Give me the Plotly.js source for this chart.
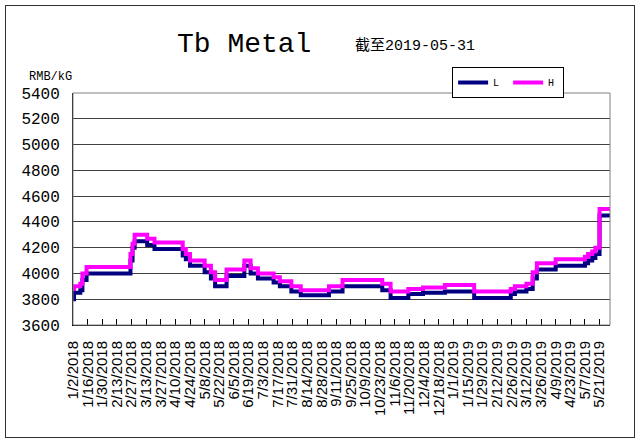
<!DOCTYPE html>
<html>
<head>
<meta charset="utf-8">
<script src="https://cdn.plot.ly/plotly-3.0.1.min.js"></script>
<style>
  html, body { margin: 0; padding: 0; background: #fff; }
  #wrap { position: relative; width: 641px; height: 445px; }
  #chart { position: absolute; left: 0; top: 0; width: 641px; height: 445px; }
  #frame { position: absolute; left: 5px; top: 5px; width: 628px; height: 431px;
           border: 1.5px solid #303030; pointer-events: none; }
</style>
</head>
<body>
<div id="wrap">
  <div id="chart"></div>
  <div id="frame"></div>
</div>
<script>
// Step change dates (price holds until the next date)
const dates = [
  '2018-01-02','2018-01-03','2018-01-09','2018-01-11','2018-01-15',
  '2018-02-26','2018-02-28','2018-03-02','2018-03-14','2018-03-21',
  '2018-04-17','2018-04-20','2018-04-24','2018-05-08','2018-05-14',
  '2018-05-18','2018-05-29','2018-06-15','2018-06-21','2018-06-28',
  '2018-07-13','2018-07-19','2018-07-30','2018-08-08','2018-09-04',
  '2018-09-17','2018-10-25','2018-11-02','2018-11-19','2018-12-03',
  '2018-12-24','2019-01-21','2019-02-25','2019-03-01','2019-03-12',
  '2019-03-18','2019-03-22','2019-04-09','2019-05-07','2019-05-10',
  '2019-05-14','2019-05-17','2019-05-21','2019-05-31'
];
const lowPrice = [
  3800,3850,3870,3950,4000,
  4100,4200,4250,4220,4190,
  4140,4110,4060,4010,3960,
  3900,3980,4060,4000,3960,
  3930,3900,3860,3830,3860,
  3900,3870,3810,3840,3850,
  3860,3810,3840,3860,3880,
  3960,4030,4060,4080,4100,
  4120,4150,4450,4450
];
const highPrice = [
  3880,3900,3920,4000,4050,
  4150,4230,4300,4270,4240,
  4190,4150,4100,4060,4010,
  3950,4030,4100,4040,4000,
  3970,3940,3900,3870,3900,
  3950,3920,3860,3880,3890,
  3910,3860,3880,3900,3920,
  4010,4080,4110,4130,4150,
  4170,4200,4500,4500
];
const seriesNames = ['L', 'H'];
const titleText = 'Tb Metal';
const subtitleText = '截至2019-05-31';
const unitText = 'RMB/kG';

const traces = [
  { x: dates, y: lowPrice, name: seriesNames[0], type: 'scatter', mode: 'lines',
    line: { color: '#000080', width: 4, shape: 'hv' } },
  { x: dates, y: highPrice, name: seriesNames[1], type: 'scatter', mode: 'lines',
    line: { color: '#FF00FF', width: 4, shape: 'hv' } }
];

const layout = {
  width: 641, height: 445,
  margin: { l: 73, r: 31, t: 93, b: 120, pad: 0 },
  paper_bgcolor: '#ffffff', plot_bgcolor: '#ffffff',
  showlegend: true,
  legend: {
    orientation: 'h', x: 0.706, y: 1.112, xanchor: 'left', yanchor: 'top',
    bordercolor: '#000', borderwidth: 1, bgcolor: '#fff',
    font: { family: 'Liberation Mono', size: 10, color: '#000' },
    tracegroupgap: 0, itemwidth: 30,
    entrywidthmode: 'pixels', entrywidth: 10
  },
  xaxis: {
    type: 'date',
    range: ['2018-01-02', '2019-05-31'],
    tick0: '2018-01-02', dtick: 14 * 86400000,
    tickformat: '%-m/%-d/%Y', tickangle: -90,
    ticks: 'inside', ticklen: 6, tickcolor: '#000', tickwidth: 1,
    showline: true, linecolor: '#000', linewidth: 1,
    showgrid: false, zeroline: false,
    ticklabelstandoff: 9,
    tickfont: { family: 'Liberation Sans', size: 15, color: '#000' }
  },
  yaxis: {
    range: [3600, 5400], tick0: 3600, dtick: 200,
    ticks: '', showline: true, linecolor: '#000', linewidth: 1,
    showgrid: true, gridcolor: '#404040', gridwidth: 1, zeroline: false,
    ticklabelstandoff: 9,
    tickfont: { family: 'Liberation Mono', size: 16, color: '#000' }
  },
  shapes: [
    { type: 'rect', xref: 'paper', yref: 'paper', x0: 0, x1: 1, y0: 0, y1: 1,
      line: { color: '#808080', width: 1 }, fillcolor: 'rgba(0,0,0,0)', layer: 'above' }
  ],
  annotations: [
    { text: titleText, xref: 'paper', yref: 'paper', x: 0.3184, y: 1.2069,
      xanchor: 'center', yanchor: 'middle', showarrow: false,
      font: { family: 'Liberation Mono', size: 28, color: '#000' } },
    { text: subtitleText, xref: 'paper', yref: 'paper', x: 0.5214, y: 1.2026,
      xanchor: 'left', yanchor: 'middle', showarrow: false,
      font: { family: 'Liberation Mono, Noto Sans CJK SC', size: 15, color: '#000' } },
    { text: unitText, xref: 'paper', yref: 'paper', x: -0.0857, y: 1.069,
      xanchor: 'left', yanchor: 'middle', showarrow: false,
      font: { family: 'Liberation Mono', size: 12, color: '#000' } }
  ]
};

Plotly.newPlot('chart', traces, layout, { displayModeBar: false, staticPlot: true });
</script>
</body>
</html>
